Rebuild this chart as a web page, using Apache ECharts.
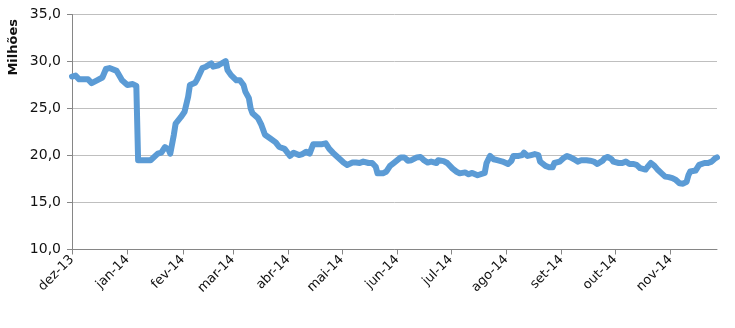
<!DOCTYPE html>
<html>
<head>
<meta charset="utf-8">
<script src="https://cdn.jsdelivr.net/npm/echarts@6/dist/echarts.min.js"></script>
<style>
  html, body { margin: 0; padding: 0; background: #fff; }
  #chart { width: 735px; height: 328px; }
</style>
</head>
<body>
<div id="chart"></div>
<script>
// Portuguese month abbreviations used in the axis labels
const monthNames = ['jan', 'fev', 'mar', 'abr', 'mai', 'jun', 'jul', 'ago', 'set', 'out', 'nov', 'dez'];

// Date span of the horizontal axis
const startDate = '2013-12-01';
const endDate = '2014-11-27';

// Observation dates and values (millions)
const obsDates = [
  '2013-12-01','2013-12-03','2013-12-05','2013-12-10','2013-12-12','2013-12-15','2013-12-18','2013-12-20',
  '2013-12-22','2013-12-26','2013-12-27','2013-12-29','2014-01-01','2014-01-04','2014-01-05','2014-01-06',
  '2014-01-07','2014-01-08','2014-01-14','2014-01-15','2014-01-18','2014-01-20','2014-01-22','2014-01-24',
  '2014-01-25','2014-01-27','2014-01-28','2014-01-31','2014-02-02','2014-02-04','2014-02-05','2014-02-08',
  '2014-02-09','2014-02-12','2014-02-14','2014-02-17','2014-02-18','2014-02-21','2014-02-22','2014-02-25',
  '2014-02-26','2014-02-28','2014-03-03','2014-03-05','2014-03-07','2014-03-08','2014-03-10','2014-03-11',
  '2014-03-12','2014-03-15','2014-03-17','2014-03-19','2014-03-22','2014-03-25','2014-03-27','2014-03-30',
  '2014-04-02','2014-04-04','2014-04-07','2014-04-09','2014-04-11','2014-04-13','2014-04-15','2014-04-18',
  '2014-04-20','2014-04-22','2014-04-24','2014-04-26','2014-04-28','2014-04-30','2014-05-02','2014-05-04',
  '2014-05-07','2014-05-09','2014-05-11','2014-05-13','2014-05-16','2014-05-18','2014-05-20','2014-05-21',
  '2014-05-24','2014-05-26','2014-05-28','2014-05-30','2014-05-31','2014-06-03','2014-06-05','2014-06-07',
  '2014-06-09','2014-06-12','2014-06-14','2014-06-16','2014-06-18','2014-06-20','2014-06-23','2014-06-24',
  '2014-06-27','2014-06-29','2014-07-02','2014-07-04','2014-07-06','2014-07-09','2014-07-11','2014-07-13',
  '2014-07-16','2014-07-17','2014-07-20','2014-07-21','2014-07-23','2014-07-25','2014-07-27','2014-07-30',
  '2014-07-31','2014-08-02','2014-08-04','2014-08-05','2014-08-08','2014-08-10','2014-08-11','2014-08-13',
  '2014-08-15','2014-08-17','2014-08-19','2014-08-20','2014-08-23','2014-08-25','2014-08-27','2014-08-28',
  '2014-08-31','2014-09-02','2014-09-04','2014-09-06','2014-09-08','2014-09-10','2014-09-12','2014-09-15',
  '2014-09-17','2014-09-19','2014-09-21','2014-09-24','2014-09-25','2014-09-27','2014-09-29','2014-09-30',
  '2014-10-03','2014-10-05','2014-10-07','2014-10-09','2014-10-11','2014-10-13','2014-10-15','2014-10-18',
  '2014-10-19','2014-10-21','2014-10-23','2014-10-25','2014-10-27','2014-10-29','2014-10-31','2014-11-02',
  '2014-11-04','2014-11-06','2014-11-08','2014-11-10','2014-11-11','2014-11-12','2014-11-15','2014-11-16',
  '2014-11-17','2014-11-20','2014-11-22','2014-11-24','2014-11-26','2014-11-27'
];
const obsValues = [
  28.4, 28.5, 28.1, 28.1, 27.7, 28.0, 28.3, 29.2,
  29.3, 29.0, 28.85, 28.0, 27.5, 27.6, 27.5, 27.4,
  19.5, 19.5, 19.5, 19.3, 20.2, 20.3, 20.9, 20.65,
  20.2, 22.2, 23.4, 24.1, 24.65, 26.25, 27.5, 27.75,
  28.1, 29.3, 29.45, 29.8, 29.45, 29.6, 29.7, 30.05,
  29.1, 28.55, 28.0, 28.0, 27.5, 26.8, 26.1, 25.0,
  24.5, 24.0, 23.25, 22.2, 21.8, 21.4, 20.9, 20.7,
  19.95, 20.3, 20.05, 20.15, 20.4, 20.2, 21.2, 21.2,
  21.2, 21.3, 20.7, 20.3, 19.95, 19.6, 19.25, 19.0,
  19.25, 19.25, 19.2, 19.35, 19.2, 19.2, 18.8, 18.1,
  18.1, 18.3, 18.9, 19.2, 19.35, 19.8, 19.8, 19.45,
  19.5, 19.8, 19.85, 19.5, 19.25, 19.35, 19.2, 19.5,
  19.4, 19.2, 18.6, 18.3, 18.1, 18.2, 18.0, 18.15,
  17.9, 17.8, 18.15, 19.2, 19.95, 19.6, 19.5, 19.35,
  19.35, 19.1, 19.45, 19.95, 19.95, 20.05, 20.3, 19.95,
  20.05, 20.15, 20.05, 19.35, 18.9, 18.75, 18.75, 19.2,
  19.35, 19.7, 19.95, 19.8, 19.6, 19.35, 19.5, 19.5,
  19.45, 19.35, 19.1, 19.45, 19.7, 19.85, 19.6, 19.35,
  19.2, 19.2, 19.35, 19.1, 19.1, 19.0, 18.65, 18.5,
  18.75, 19.2, 18.9, 18.45, 18.1, 17.75, 17.7, 17.6,
  17.4, 17.05, 17.0, 17.2, 17.9, 18.3, 18.4, 18.4,
  19.0, 19.2, 19.2, 19.35, 19.7, 19.8
];

// Value axis settings
const yMin = 10;
const yMax = 35;
const yStep = 5;

// Every calendar day of the span, as category names
function pad(n) { return n < 10 ? '0' + n : '' + n; }
const dayCategories = [];
{
  const d = new Date(startDate + 'T00:00:00Z');
  const end = new Date(endDate + 'T00:00:00Z');
  while (d <= end) {
    dayCategories.push(d.getUTCFullYear() + '-' + pad(d.getUTCMonth() + 1) + '-' + pad(d.getUTCDate()));
    d.setUTCDate(d.getUTCDate() + 1);
  }
}

const isMonthStart = (idx, value) => value.slice(8) === '01';

const seriesData = obsDates.map((d, i) => [d, obsValues[i]]);

const chart = echarts.init(document.getElementById('chart'), null, { renderer: 'canvas' });

chart.setOption({
  animation: false,
  backgroundColor: '#ffffff',
  grid: { left: 72, right: 18, top: 14.5, bottom: 78.5, containLabel: false },
  xAxis: {
    type: 'category',
    data: dayCategories,
    boundaryGap: false,
    axisLine: { show: true, lineStyle: { color: '#868686', width: 1 } },
    axisTick: { show: true, interval: isMonthStart, length: 5, lineStyle: { color: '#868686' } },
    axisLabel: {
      interval: isMonthStart,
      rotate: 45,
      margin: 8,
      color: '#111',
      fontFamily: 'DejaVu Sans',
      fontSize: 13,
      formatter: (value) => {
        const m = parseInt(value.slice(5, 7), 10);
        return monthNames[m - 1] + '-' + value.slice(2, 4);
      }
    },
    splitLine: { show: false }
  },
  yAxis: {
    type: 'value',
    min: yMin,
    max: yMax,
    interval: yStep,
    axisLine: { show: true, lineStyle: { color: '#868686', width: 1 } },
    axisTick: { show: true, length: 5, lineStyle: { color: '#868686' } },
    axisLabel: {
      margin: 11,
      color: '#111',
      fontFamily: 'DejaVu Sans',
      fontSize: 14,
      formatter: (v) => v.toFixed(1).replace('.', ',')
    },
    splitLine: { show: true, lineStyle: { color: '#bfbfbf', width: 1 } }
  },
  graphic: [{
    type: 'text',
    left: 7,
    top: 19,
    rotation: Math.PI / 2,
    style: {
      text: 'Milhões',
      fill: '#111',
      font: 'bold 13px "DejaVu Sans"'
    }
  }],
  series: [{
    type: 'line',
    data: seriesData,
    showSymbol: false,
    symbol: 'none',
    smooth: false,
    lineStyle: { color: '#5b9bd5', width: 6, join: 'round', cap: 'round' },
    z: 3
  }]
});
</script>
</body>
</html>
